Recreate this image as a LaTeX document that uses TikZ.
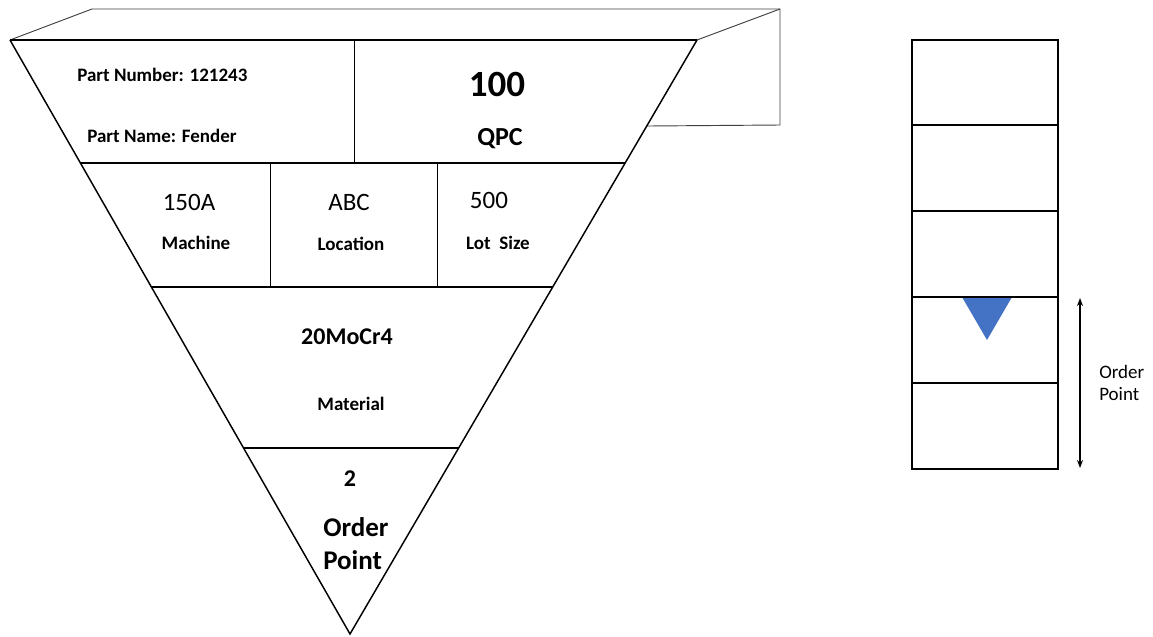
\documentclass[tikz,border=0pt]{standalone}
\usepackage{fontspec}
\setmainfont{Carlito}
\usetikzlibrary{arrows.meta,calc}
\definecolor{kanbanblue}{HTML}{4472C4}

\tikzset{
    label/.style={inner sep=0pt, anchor=base},
    labelw/.style={inner sep=0pt, anchor=base west},
    small/.style={font=\fontsize{14.25}{17}\selectfont\bfseries},
    value/.style={font=\fontsize{18.75}{22}\selectfont},
}

\begin{document}
\begin{tikzpicture}[x=0.75pt, y=-0.75pt]
    % --- canvas (pixel units, y downwards) ---
    \useasboundingbox (0,0) rectangle (1153,636);

    % --- corners of the card ---
    \coordinate (TL) at (10,40);
    \coordinate (TR) at (697,40);
    \coordinate (apex) at (350,634);

    % row boundaries as fractions along the slanted edges
    \def\rowA{0.2071}   % y = 163
    \def\rowB{0.4158}   % y = 287
    \def\rowC{0.6869}   % y = 448
    \def\flapT{0.1448}  % y = 126

    \coordinate (L1) at ($(TL)!\rowA!(apex)$);
    \coordinate (R1) at ($(TR)!\rowA!(apex)$);
    \coordinate (L2) at ($(TL)!\rowB!(apex)$);
    \coordinate (R2) at ($(TR)!\rowB!(apex)$);
    \coordinate (L3) at ($(TL)!\rowC!(apex)$);
    \coordinate (R3) at ($(TR)!\rowC!(apex)$);
    \coordinate (RF) at ($(TR)!\flapT!(apex)$);

    % --- flap behind the card ---
    \draw[line width=0.7pt, black!75] (TL) -- (92,9) -- (780,9) -- (780,125) -- (RF);
    \draw[line width=0.7pt, black!75] (TR) -- (780,9);

    % --- card outline ---
    \draw[line width=1.1pt] (TL) -- (apex) -- (TR);
    \draw[line width=1.6pt] (TL) -- (TR);

    % --- rows and columns ---
    \draw[line width=0.8pt] (L1) -- (R1);
    \draw[line width=0.8pt] (L2) -- (R2);
    \draw[line width=0.8pt] (L3) -- (R3);
    \draw[line width=0.6pt] (354,40) -- (354,163);
    \draw[line width=0.6pt] (270,163) -- (270,287);
    \draw[line width=0.6pt] (437,163) -- (437,287);

    % --- texts of the card ---
    \node[labelw, small] (partno) at (77,81) {Part Number: 121243};
    \node[labelw, small] (partname) at (87,142) {Part Name: Fender};
    \node[label, font=\fontsize{27.75}{33}\selectfont\bfseries] (qty) at (497,96) {100};
    \node[label, font=\fontsize{19.5}{23}\selectfont\bfseries] (qpc) at (500,145) {QPC};

    \node[label, value] (machval) at (189,210) {150A};
    \node[label, value] (locval) at (349,210) {ABC};
    \node[label, value] (lotval) at (489,208) {500};
    \node[label, small] (mach) at (196,249) {Machine};
    \node[label, small] (loc) at (351,250) {Location};
    \node[label, small] (lot) at (498,249) {Lot\ \ Size};

    \node[label, font=\fontsize{18}{22}\selectfont\bfseries] (matval) at (347,344) {20MoCr4};
    \node[label, small] (mat) at (351,410) {Material};

    \node[label, font=\fontsize{18}{22}\selectfont\bfseries] (opval) at (350,486) {2};
    \node[labelw, font=\fontsize{20.25}{25}\selectfont\bfseries] (opA) at (323,536) {Order};
    \node[labelw, font=\fontsize{20.25}{25}\selectfont\bfseries] (opB) at (323,569) {Point};

    % --- stack of containers ---
    \fill[kanbanblue] (962,297) -- (1012,297) -- (987,340) -- cycle;
    \draw[line width=1.1pt] (912,40) rectangle (1058,469);
    \foreach \y in {125,211}
        \draw[line width=1.1pt] (912,\y) -- (1058,\y);
    \foreach \y in {297,383}
        \draw[line width=1.9pt] (912,\y) -- (1058,\y);

    % --- order point marker ---
    \coordinate (optop) at (1080,298);
    \coordinate (opbot) at (1080,468);
    \draw[line width=1pt, {Stealth[length=6pt,width=4.5pt]}-{Stealth[length=6pt,width=4.5pt]}] (optop) -- (opbot);
    \node[labelw, font=\fontsize{14.25}{17}\selectfont] (opC) at (1099,378) {Order};
    \node[labelw, font=\fontsize{14.25}{17}\selectfont] (opD) at (1099,400) {Point};
\end{tikzpicture}
\end{document}
